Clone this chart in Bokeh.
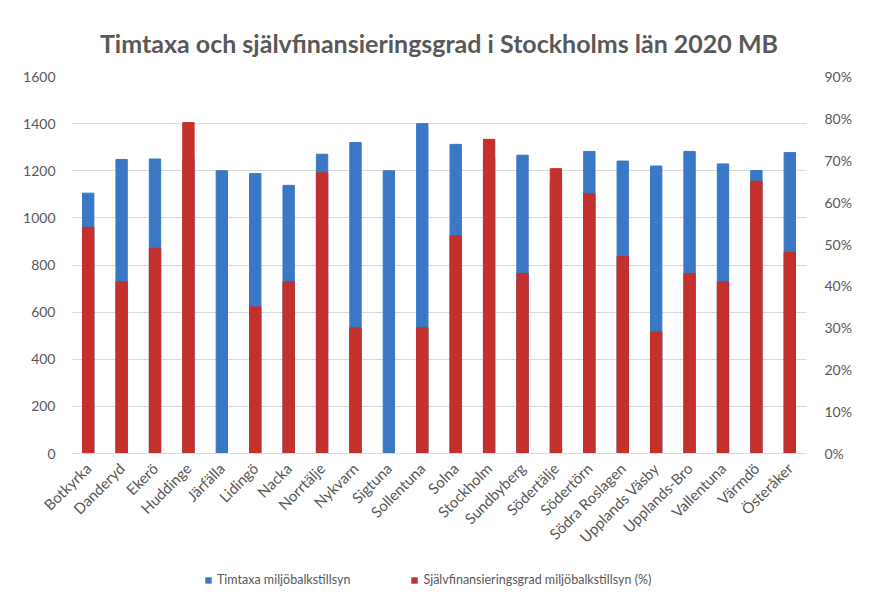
import math
from bokeh.plotting import figure
from bokeh.layouts import column
from bokeh.models import (ColumnDataSource, FactorRange, Range1d, LinearAxis,
                          FixedTicker, Legend, LegendItem, CustomJSTickFormatter)
from bokeh.embed import file_html
from bokeh.resources import INLINE

kommuner = ["Botkyrka", "Danderyd", "Ekerö", "Huddinge", "Järfälla", "Lidingö",
            "Nacka", "Norrtälje", "Nykvarn", "Sigtuna", "Sollentuna", "Solna",
            "Stockholm", "Sundbyberg", "Södertälje", "Södertörn", "Södra Roslagen",
            "Upplands Väsby", "Upplands-Bro", "Vallentuna", "Värmdö", "Österåker"]
timtaxa = [1105, 1248, 1250, 1250, 1200, 1188, 1138, 1270, 1320, 1200, 1400, 1312,
           1250, 1266, 1150, 1282, 1241, 1220, 1282, 1229, 1201, 1277]
sjalvfin = [54, 41, 49, 79, 0, 35, 41, 67, 30, 0, 30, 52,
            75, 43, 68, 62, 47, 29, 43, 41, 65, 48]
left_ticks = [0, 200, 400, 600, 800, 1000, 1200, 1400, 1600]
right_ticks = [0, 10, 20, 30, 40, 50, 60, 70, 80, 90]
series_names = ["Timtaxa miljöbalkstillsyn", "Självfinansieringsgrad miljöbalkstillsyn (%)"]

FONT = "Lato"
GREY = "#595959"
BLUE = "#3A78C6"
RED = "#C4302C"

src = ColumnDataSource(dict(k=kommuner, t=timtaxa, s=sjalvfin))

p = figure(width=886, height=555, x_range=FactorRange(*kommuner, range_padding=0.0),
           y_range=Range1d(0, 1600), output_backend="svg", toolbar_location=None,
           min_border_left=71, min_border_right=80, min_border_top=76,
           min_border_bottom=101)
p.extra_y_ranges = {"pct": Range1d(0, 90)}

p.title.text = "Timtaxa och självfinansieringsgrad i Stockholms län 2020 MB"
p.title.align = "center"
p.title.text_font = FONT
p.title.text_font_size = "25px"
p.title.text_font_style = "bold"
p.title.text_color = GREY
p.title.standoff = 37
p.title.offset = 11

rb = p.vbar(x="k", top="t", width=0.34, source=src, fill_color=BLUE, line_color=BLUE)
rr = p.vbar(x="k", top="s", width=0.34, source=src, fill_color=RED, line_color=RED,
            y_range_name="pct")

p.outline_line_color = None
p.xgrid.grid_line_color = None
p.ygrid.grid_line_color = "#D9D9D9"
p.ygrid.ticker = FixedTicker(ticks=left_ticks)

ya = p.yaxis[0]
ya.ticker = FixedTicker(ticks=left_ticks)
ya.axis_line_color = None
ya.major_tick_line_color = None
ya.minor_tick_line_color = None
ya.major_label_text_font = FONT
ya.major_label_text_font_size = "14px"
ya.major_label_text_color = GREY
ya.major_label_standoff = 10

ra = LinearAxis(y_range_name="pct", ticker=FixedTicker(ticks=right_ticks),
                formatter=CustomJSTickFormatter(code="return tick + '%';"))
ra.axis_line_color = None
ra.major_tick_line_color = None
ra.minor_tick_line_color = None
ra.major_label_text_font = FONT
ra.major_label_text_font_size = "14px"
ra.major_label_text_color = GREY
ra.major_label_standoff = 12
p.add_layout(ra, "right")

xa = p.xaxis[0]
xa.axis_line_color = "#D9D9D9"
xa.major_tick_line_color = None
xa.major_label_orientation = math.pi / 4
xa.major_label_text_font = FONT
xa.major_label_text_font_size = "15px"
xa.major_label_text_color = GREY
xa.major_label_standoff = 6

# legend row below the chart (its swatch glyphs sit outside the visible range)
lf = figure(width=886, height=44, x_range=Range1d(0, 1), y_range=Range1d(0, 1),
            x_axis_type=None, y_axis_type=None,
            output_backend="svg", toolbar_location=None,
            min_border_left=0, min_border_right=0, min_border_top=0, min_border_bottom=0)
lf.grid.visible = False
lf.outline_line_color = None
offscreen = ColumnDataSource(dict(x=[50], top=[60], bottom=[55]))
lb = lf.vbar(x="x", top="top", bottom="bottom", width=0.1, source=offscreen,
             fill_color=BLUE, line_color=None)
lr = lf.vbar(x="x", top="top", bottom="bottom", width=0.1, source=offscreen,
             fill_color=RED, line_color=None)
legend = Legend(items=[LegendItem(label=series_names[0], renderers=[lb]),
                       LegendItem(label=series_names[1], renderers=[lr])],
                orientation="horizontal", location=(133, 12))
legend.label_text_font = FONT
legend.label_text_font_size = "12.5px"
legend.label_text_color = GREY
legend.glyph_width = 8
legend.glyph_height = 8
legend.spacing = 60
legend.label_standoff = 5
legend.border_line_color = None
legend.background_fill_alpha = 0
legend.margin = 0
legend.padding = 2
lf.add_layout(legend, "center")

layout = column(p, lf, spacing=0)
open("out.html", "w").write(file_html(layout, INLINE))
